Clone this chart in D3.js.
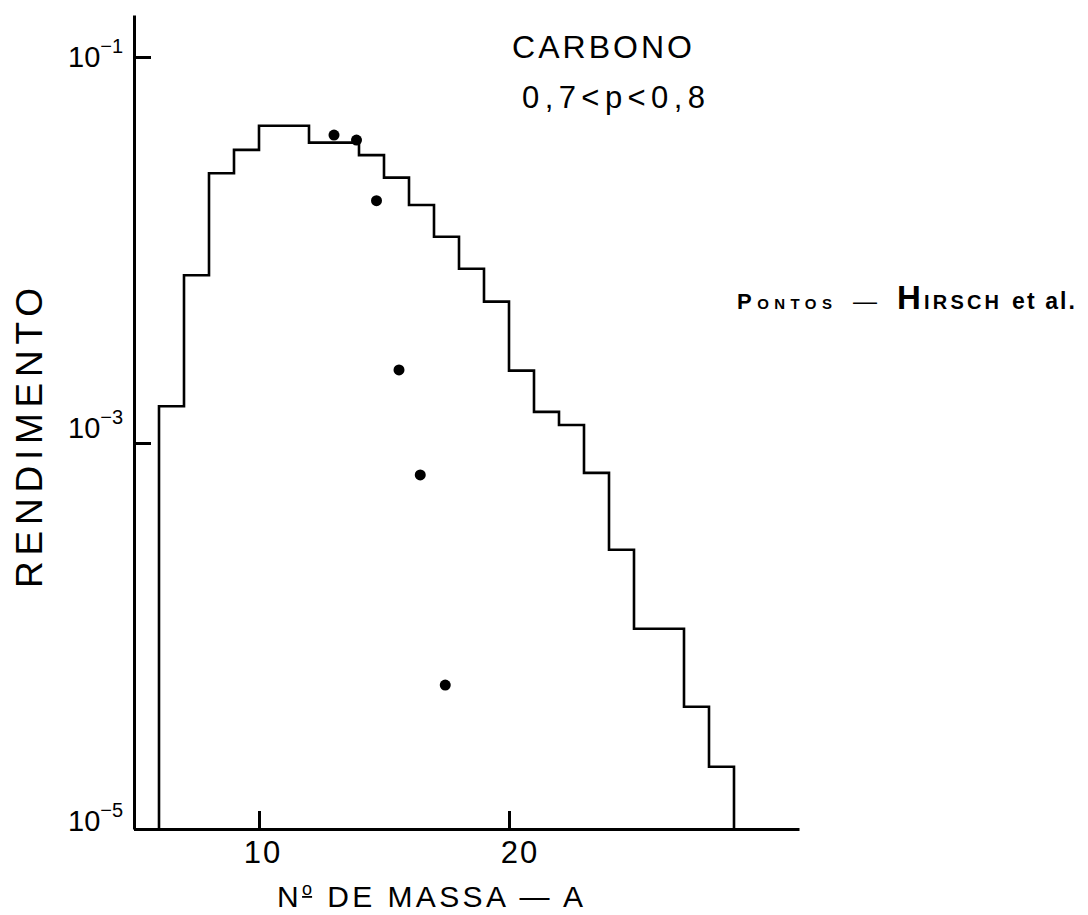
<!DOCTYPE html>
<html>
<head>
<meta charset="utf-8">
<script src="https://cdn.jsdelivr.net/npm/d3@7"></script>
<style>
  html, body { margin: 0; padding: 0; background: #fff; }
  svg { display: block; }
  text { font-family: "Liberation Sans", Arial, sans-serif; fill: #000; }
</style>
</head>
<body>
<svg id="chart" width="1088" height="915"></svg>
<script>
// Histogram: lower edge of each mass-number bin (A) and its yield
const binStart = [6, 7, 8, 9, 10, 11, 12, 13, 14, 15, 16, 17, 18, 19, 20, 21, 22, 23, 24, 25, 26, 27, 28];
const binYield = [1.55e-3, 7.4e-3, 2.5e-2, 3.3e-2, 4.4e-2, 4.4e-2, 3.6e-2, 3.6e-2, 3.1e-2, 2.37e-2,
                  1.71e-2, 1.17e-2, 8.0e-3, 5.4e-3, 2.37e-3, 1.45e-3, 1.24e-3, 7.0e-4, 2.8e-4,
                  1.09e-4, 1.09e-4, 4.3e-5, 2.1e-5];

// Measured points (Hirsch et al.)
const pointA = [13.0, 13.9, 14.7, 15.6, 16.45, 17.45];
const pointYield = [3.94e-2, 3.71e-2, 1.8e-2, 2.39e-3, 6.83e-4, 5.57e-5];

// Axis ticks
const xTicks = [10, 20];
const yTickExp = [-1, -3, -5];

const svg = d3.select("#chart");

const x = d3.scaleLinear().domain([5, 31.6]).range([134, 799]);
const y = d3.scaleLog().domain([1e-5, 0.165]).range([829, 15]);

// Axes
const yAxis = d3.axisLeft(y)
  .tickValues(yTickExp.map(e => Math.pow(10, e)))
  .tickSizeInner(-17).tickSizeOuter(0).tickFormat("");
const gy = svg.append("g").attr("transform", `translate(${x.range()[0]},0)`).call(yAxis);
gy.select(".domain").attr("stroke-width", 3);
gy.selectAll(".tick line").attr("stroke-width", 3);

const xAxis = d3.axisBottom(x)
  .tickValues(xTicks).tickSizeInner(-18).tickSizeOuter(0).tickFormat("");
const gx = svg.append("g").attr("transform", `translate(0,${y.range()[0]})`).call(xAxis);
gx.select(".domain").attr("stroke-width", 3);
gx.selectAll(".tick line").attr("stroke-width", 3);

// x tick labels
svg.selectAll("text.xlab").data(xTicks).enter().append("text")
  .attr("class", "xlab")
  .attr("x", d => x(d) + (d === 20 ? 11 : 4))
  .attr("y", 863)
  .attr("text-anchor", "middle")
  .attr("font-size", 31)
  .attr("letter-spacing", 2)
  .text(d => d);

// y tick labels: 10 with superscript exponent
const yLabDy = { "-1": 10, "-3": -5, "-5": 2 };
yTickExp.forEach(e => {
  const t = svg.append("text")
    .attr("x", 68)
    .attr("y", y(Math.pow(10, e)) + yLabDy[e])
    .attr("font-size", 29);
  t.append("tspan").text("10");
  t.append("tspan").attr("dy", -14).attr("font-size", 20).text("\u2212" + Math.abs(e));
});

// Histogram outline as a step path
const pts = [[binStart[0], y.domain()[0]]];
binStart.forEach((a, i) => {
  pts.push([a, binYield[i]]);
  pts.push([a + 1, binYield[i]]);
});
pts.push([binStart[binStart.length - 1] + 1, y.domain()[0]]);

const line = d3.line().x(d => x(d[0])).y(d => y(d[1]));
svg.append("path")
  .attr("d", line(pts))
  .attr("fill", "none")
  .attr("stroke", "#000")
  .attr("stroke-width", 2.6)
  .attr("stroke-linejoin", "miter");

// Data points
svg.selectAll("circle.pt").data(pointA).enter().append("circle")
  .attr("class", "pt")
  .attr("cx", d => x(d))
  .attr("cy", (d, i) => y(pointYield[i]))
  .attr("r", 5.5)
  .attr("fill", "#000");

// Axis titles
svg.append("text")
  .attr("x", 277).attr("y", 907)
  .attr("font-size", 30)
  .attr("textLength", 306)
  .attr("lengthAdjust", "spacing")
  .html("N<tspan font-size='18' dy='-12' text-decoration='underline'>o</tspan><tspan dy='12'> DE MASSA \u2014 A</tspan>");

svg.append("text")
  .attr("transform", "translate(42,438) rotate(-90)")
  .attr("text-anchor", "middle")
  .attr("font-size", 37)
  .attr("textLength", 300)
  .attr("lengthAdjust", "spacing")
  .text("RENDIMENTO");

// Annotations
svg.append("text")
  .attr("x", 512).attr("y", 58)
  .attr("font-size", 32)
  .attr("textLength", 180)
  .attr("lengthAdjust", "spacing")
  .text("CARBONO");

svg.append("text")
  .attr("x", 522).attr("y", 108)
  .attr("font-size", 31)
  .attr("textLength", 183)
  .attr("lengthAdjust", "spacing")
  .text("0,7<p<0,8");

// Legend for the points
const legY = 309;
svg.append("text").attr("x", 737).attr("y", legY)
  .attr("font-size", 22).attr("font-weight", 600)
  .attr("textLength", 95).attr("lengthAdjust", "spacing")
  .html("P<tspan font-size='15'>ONTOS</tspan>");
svg.append("text").attr("x", 853).attr("y", legY)
  .attr("font-size", 24).attr("textLength", 24).attr("lengthAdjust", "spacingAndGlyphs")
  .text("\u2014");
svg.append("text").attr("x", 897).attr("y", legY)
  .attr("font-size", 33).attr("font-weight", 600)
  .attr("textLength", 102).attr("lengthAdjust", "spacing")
  .html("H<tspan font-size='20'>IRSCH</tspan>");
svg.append("text").attr("x", 1012).attr("y", legY)
  .attr("font-size", 23).attr("font-weight", 600)
  .attr("textLength", 63).attr("lengthAdjust", "spacing")
  .text("et al.");
</script>
</body>
</html>
